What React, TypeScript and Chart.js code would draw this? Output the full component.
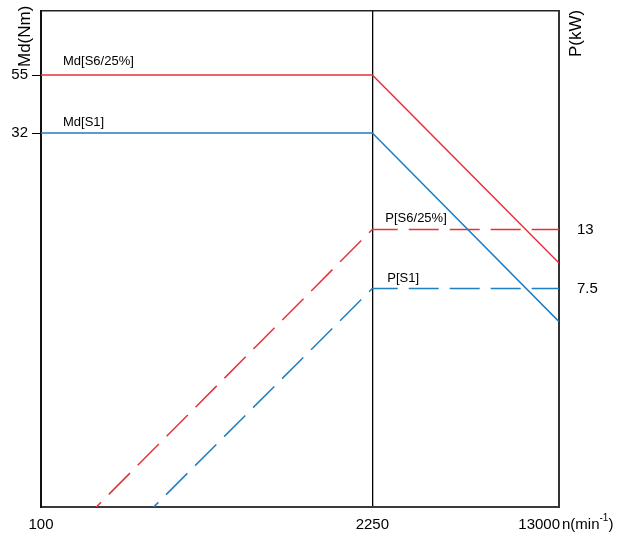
import React, { useEffect, useRef } from "react";
import { Chart, registerables } from "chart.js";

Chart.register(...registerables);

// ---- data ----
const speeds = [100, 2250, 13000]; // n (min^-1)
const torqueS6 = [55, 55, 9.5]; // Md[S6/25%] (Nm)
const torqueS1 = [32, 32, 5.5]; // Md[S1] (Nm)
const powerS6 = [0.58, 13, 13]; // P[S6/25%] (kW)
const powerS1 = [0.34, 7.5, 7.5]; // P[S1] (kW)
const xTicks = [100, 2250, 13000];
const torqueTicks = [55, 32];
const powerTicks = [13, 7.5];
const seriesLabels = ["Md[S6/25%]", "Md[S1]", "P[S6/25%]", "P[S1]"];

const RED = "#e5323a";
const BLUE = "#1f7fc3";
const FONT = "'Liberation Sans', Arial, sans-serif";

const pts = (ys: number[]) => speeds.map((x, i) => ({ x, y: ys[i] }));

const textPlugin = {
  id: "texts",
  afterDraw(chart: any) {
    const ctx = chart.ctx as CanvasRenderingContext2D;
    const xs = chart.scales.x;
    const yl = chart.scales.y;
    const yr = chart.scales.y2;
    const area = chart.chartArea;
    ctx.save();
    ctx.fillStyle = "#000";
    ctx.textBaseline = "middle";

    // x tick labels
    ctx.font = `15px ${FONT}`;
    xTicks.forEach((v, i) => {
      const px = xs.getPixelForValue(v);
      if (i === xTicks.length - 1) {
        ctx.textAlign = "right";
        ctx.fillText(String(v), px + 1, 525);
      } else {
        ctx.textAlign = "center";
        ctx.fillText(String(v), px, 525);
      }
    });
    // x title n(min^-1)
    ctx.textAlign = "left";
    let tx = area.right + 3;
    ctx.font = `15px ${FONT}`;
    ctx.fillText("n(min", tx, 525);
    tx += ctx.measureText("n(min").width;
    ctx.font = `10px ${FONT}`;
    ctx.fillText("-1", tx, 518);
    tx += ctx.measureText("-1").width;
    ctx.font = `15px ${FONT}`;
    ctx.fillText(")", tx, 525);

    // y titles (rotated)
    ctx.font = `17px ${FONT}`;
    ctx.textAlign = "left";
    ctx.save();
    ctx.translate(25, 67);
    ctx.rotate(-Math.PI / 2);
    ctx.fillText("Md(Nm)", 0, 0);
    ctx.restore();
    ctx.save();
    ctx.translate(576, 57);
    ctx.rotate(-Math.PI / 2);
    ctx.fillText("P(kW)", 0, 0);
    ctx.restore();

    // series labels
    ctx.font = `13px ${FONT}`;
    ctx.textAlign = "left";
    const x0 = xs.getPixelForValue(speeds[0]);
    const x1 = xs.getPixelForValue(speeds[1]);
    ctx.fillText(seriesLabels[0], x0 + 22, yl.getPixelForValue(torqueS6[0]) - 14);
    ctx.fillText(seriesLabels[1], x0 + 22, yl.getPixelForValue(torqueS1[0]) - 11);
    ctx.fillText(seriesLabels[2], x1 + 13, yr.getPixelForValue(powerS6[1]) - 11);
    ctx.fillText(seriesLabels[3], x1 + 15, yr.getPixelForValue(powerS1[1]) - 10);
    ctx.restore();
  },
};

export default function App() {
  const ref = useRef<HTMLCanvasElement | null>(null);
  useEffect(() => {
    if (!ref.current) return;
    const common = { pointRadius: 0, borderWidth: 1.5, fill: false, tension: 0 };
    // power curves are stroked from the right edge so the dash pattern runs through the corner
    const dashed = { borderDash: [30, 11], borderDashOffset: 2.7 };
    const chart = new Chart(ref.current, {
      type: "line",
      data: {
        datasets: [
          { ...common, label: seriesLabels[0], data: pts(torqueS6), borderColor: RED, yAxisID: "y" },
          { ...common, label: seriesLabels[1], data: pts(torqueS1), borderColor: BLUE, yAxisID: "y" },
          { ...common, ...dashed, label: seriesLabels[2], data: pts(powerS6).reverse(), borderColor: RED, yAxisID: "y2" },
          { ...common, ...dashed, label: seriesLabels[3], data: pts(powerS1).reverse(), borderColor: BLUE, yAxisID: "y2" },
        ],
      },
      options: {
        animation: false,
        responsive: true,
        maintainAspectRatio: false,
        layout: { padding: 0, autoPadding: false },
        plugins: { legend: { display: false }, tooltip: { enabled: false } },
        scales: {
          x: {
            type: "logarithmic",
            position: "bottom",
            min: 100,
            max: 13000,
            afterBuildTicks: (s: any) => { s.ticks = xTicks.map((v) => ({ value: v })); },
            afterFit: (s: any) => { s.height = 26; s.paddingLeft = 0; s.paddingRight = 0; },
            ticks: { display: false, autoSkip: false },
            grid: {
              drawTicks: false,
              lineWidth: 1.3,
              color: (c: any) => (c.tick && c.tick.value === 2250 ? "#000" : "rgba(0,0,0,0)"),
            },
            border: { display: true, color: "#3a3a3a", width: 2 },
          },
          xTop: {
            type: "linear",
            position: "top",
            min: 0,
            max: 1,
            afterBuildTicks: (s: any) => { s.ticks = []; },
            afterFit: (s: any) => { s.height = 11; s.paddingLeft = 0; s.paddingRight = 0; },
            ticks: { display: false },
            grid: { drawOnChartArea: false, drawTicks: false },
            border: { display: true, color: "#222", width: 1.5 },
          },
          y: {
            type: "logarithmic",
            position: "left",
            min: 0.974,
            max: 100,
            afterBuildTicks: (s: any) => { s.ticks = torqueTicks.map((v) => ({ value: v })); },
            afterFit: (s: any) => { s.width = 41; s.paddingTop = 0; s.paddingBottom = 0; },
            ticks: {
              autoSkip: false,
              padding: 4,
              color: "#000",
              font: { family: FONT, size: 15 },
              callback: (v: any) => String(v),
            },
            grid: { drawOnChartArea: false, drawTicks: true, tickLength: 9, tickColor: "#000", tickWidth: 1 },
            border: { display: true, color: "#111", width: 2 },
          },
          y2: {
            type: "logarithmic",
            position: "right",
            min: 0.974,
            max: 100,
            afterBuildTicks: (s: any) => { s.ticks = powerTicks.map((v) => ({ value: v })); },
            afterFit: (s: any) => { s.width = 68; s.paddingTop = 0; s.paddingBottom = 0; },
            ticks: {
              autoSkip: false,
              padding: 8,
              color: "#000",
              font: { family: FONT, size: 15 },
              callback: (v: any) => String(v),
            },
            grid: { drawOnChartArea: false, drawTicks: true, tickLength: 10, tickColor: "rgba(0,0,0,0)" },
            border: { display: true, color: "#333", width: 2 },
          },
        },
      },
      plugins: [textPlugin],
    } as any);
    return () => chart.destroy();
  }, []);
  return (
    <div style={{ position: "fixed", left: 0, top: 0, width: 627, height: 533, background: "#fff" }}>
      <canvas ref={ref} />
    </div>
  );
}
